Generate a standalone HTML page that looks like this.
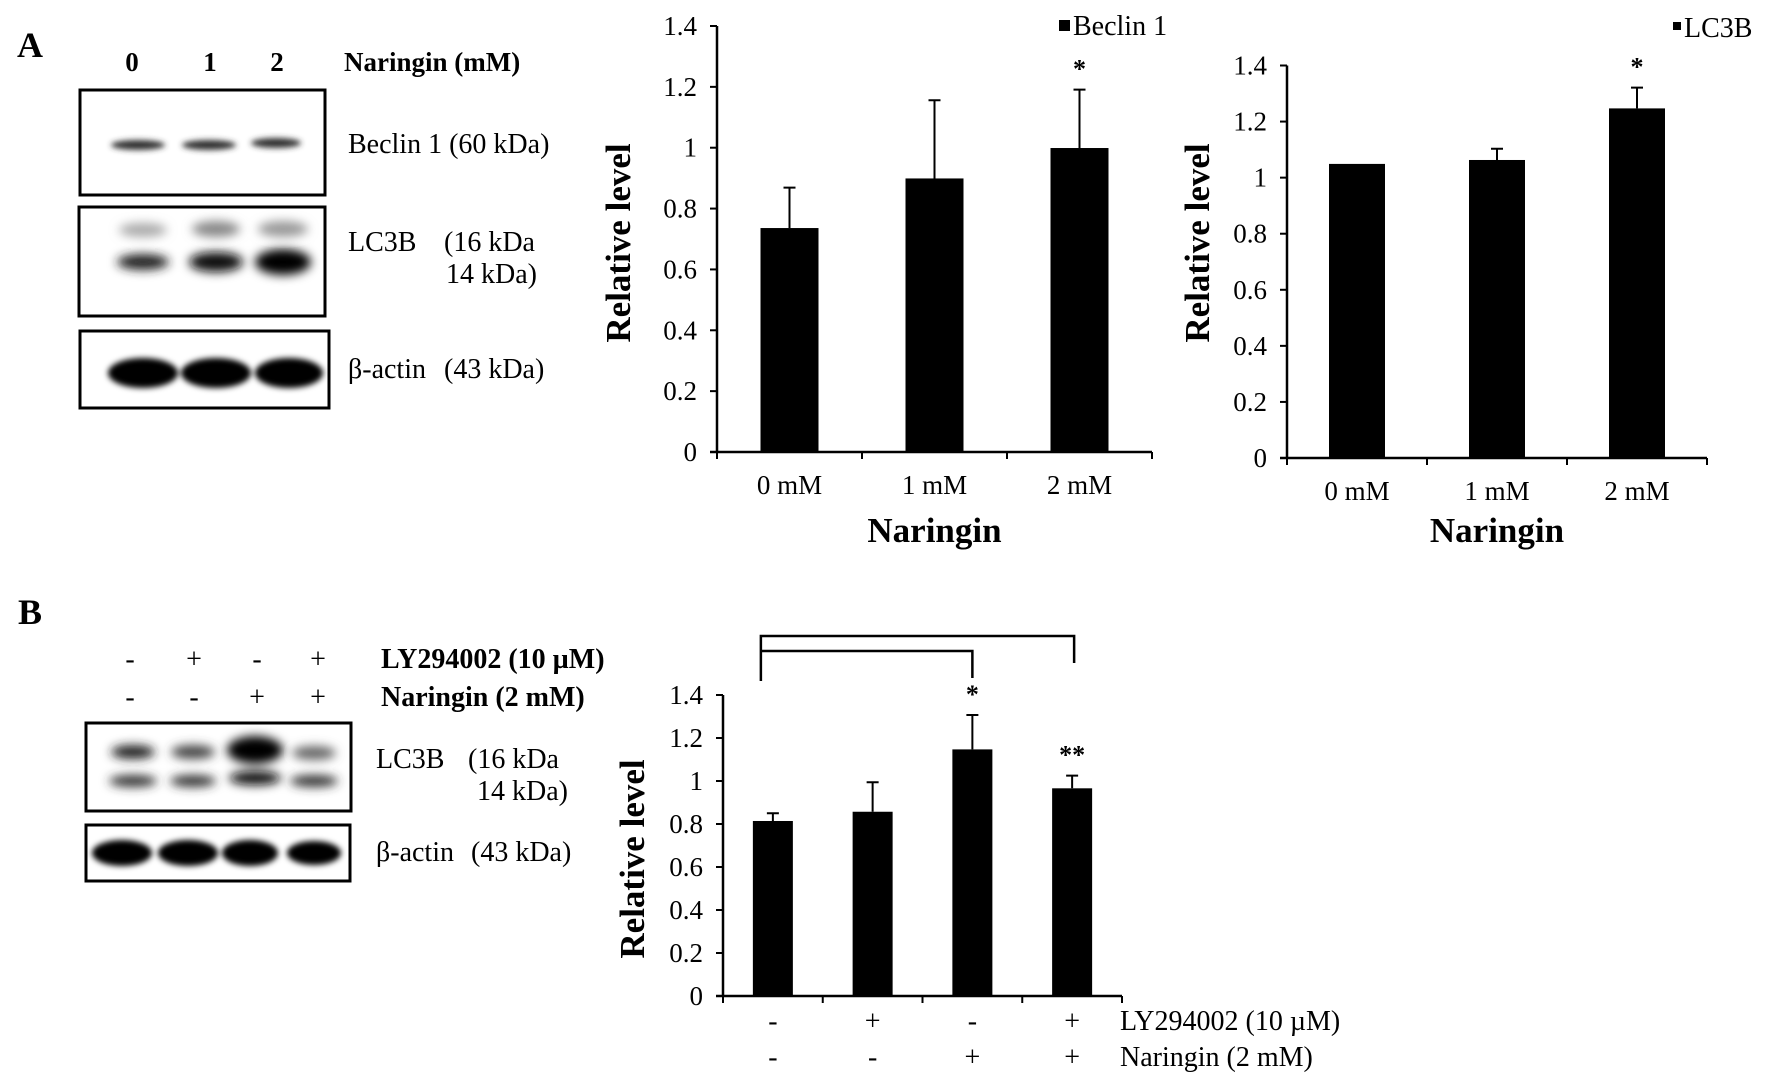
<!DOCTYPE html>
<html><head><meta charset="utf-8"><style>
html,body{margin:0;padding:0;background:#fff;}
svg{display:block;font-family:"Liberation Serif",serif;}
</style></head><body>
<svg id="fig" width="1772" height="1088" viewBox="0 0 1772 1088" xmlns="http://www.w3.org/2000/svg">
<defs>
<filter id="blur3" x="-50%" y="-100%" width="200%" height="300%"><feGaussianBlur stdDeviation="3"/></filter>
<filter id="blur5" x="-50%" y="-100%" width="200%" height="300%"><feGaussianBlur stdDeviation="5"/></filter>
</defs>
<text x="17" y="57" font-size="36" font-weight="bold">A</text>
<g font-size="27" font-weight="bold">
<text x="132" y="71" text-anchor="middle">0</text>
<text x="210" y="71" text-anchor="middle">1</text>
<text x="277" y="71" text-anchor="middle">2</text>
<text x="344" y="71">Naringin (mM)</text>
</g>
<g>
<rect x="80" y="90" width="245" height="105" fill="#fff" stroke="#000" stroke-width="3"/>
<g filter="url(#blur3)" fill="#333"><ellipse cx="138" cy="145" rx="27" ry="5"/><ellipse cx="209" cy="145" rx="27" ry="5"/><ellipse cx="276" cy="143" rx="25" ry="5"/></g>
</g>
<g>
<rect x="79" y="207" width="246" height="109" fill="#fff" stroke="#000" stroke-width="3"/>
<g filter="url(#blur5)"><ellipse cx="143" cy="230" rx="24" ry="7" fill="#aaa"/><ellipse cx="216" cy="229" rx="24" ry="8" fill="#888"/><ellipse cx="283" cy="229" rx="25" ry="8" fill="#999"/>
<ellipse cx="143" cy="262" rx="26" ry="8" fill="#222"/><ellipse cx="216" cy="262" rx="27" ry="10" fill="#111"/><ellipse cx="283" cy="262" rx="28" ry="13" fill="#000"/></g>
</g>
<g>
<rect x="80" y="331" width="249" height="77" fill="#fff" stroke="#000" stroke-width="3"/>
<g filter="url(#blur3)" fill="#000"><ellipse cx="143" cy="373" rx="35" ry="15"/><ellipse cx="216" cy="373" rx="35" ry="15"/><ellipse cx="289" cy="373" rx="34" ry="15"/></g>
</g>
<g font-size="28">
<text x="348" y="153">Beclin 1  (60 kDa)</text>
<text x="348" y="251">LC3B</text><text x="444" y="251">(16 kDa</text>
<text x="446" y="283">14 kDa)</text>
<text x="348" y="378">β-actin</text><text x="444" y="378">(43 kDa)</text>
</g>
<text x="18" y="624" font-size="36" font-weight="bold">B</text>
<g font-size="28">
<text x="130" y="668" text-anchor="middle">-</text><text x="194" y="668" text-anchor="middle">+</text><text x="257" y="668" text-anchor="middle">-</text><text x="318" y="668" text-anchor="middle">+</text>
<text x="130" y="706" text-anchor="middle">-</text><text x="194" y="706" text-anchor="middle">-</text><text x="257" y="706" text-anchor="middle">+</text><text x="318" y="706" text-anchor="middle">+</text>
</g>
<g font-size="28" font-weight="bold">
<text x="381" y="668">LY294002 (10 µM)</text>
<text x="381" y="706">Naringin (2 mM)</text>
</g>
<g>
<rect x="86" y="723" width="265" height="88" fill="#fff" stroke="#000" stroke-width="3"/>
<g filter="url(#blur5)"><ellipse cx="133" cy="752" rx="22" ry="7" fill="#222"/><ellipse cx="193" cy="752" rx="22" ry="7" fill="#444"/><ellipse cx="255" cy="750" rx="28" ry="14" fill="#000"/><ellipse cx="314" cy="753" rx="22" ry="7" fill="#666"/>
<ellipse cx="133" cy="781" rx="24" ry="6" fill="#333"/><ellipse cx="193" cy="781" rx="23" ry="6" fill="#333"/><ellipse cx="255" cy="778" rx="26" ry="7" fill="#111"/><ellipse cx="314" cy="781" rx="24" ry="6" fill="#333"/></g>
</g>
<g>
<rect x="86" y="825" width="264" height="56" fill="#fff" stroke="#000" stroke-width="3"/>
<g filter="url(#blur3)" fill="#000"><ellipse cx="122" cy="853" rx="30" ry="13"/><ellipse cx="188" cy="853" rx="30" ry="13"/><ellipse cx="250" cy="853" rx="28" ry="13"/><ellipse cx="314" cy="853" rx="27" ry="12"/></g>
</g>
<g font-size="28">
<text x="376" y="768">LC3B</text><text x="468" y="768">(16 kDa</text>
<text x="477" y="800">14 kDa)</text>
<text x="376" y="861">β-actin</text><text x="471" y="861">(43 kDa)</text>
</g>
<g id="charts"></g>
</svg>
<script>
// Chart 1: Beclin 1
const c1Categories = ["0 mM", "1 mM", "2 mM"];
const c1Values = [0.736, 0.899, 0.999];
const c1Errors = [0.133, 0.257, 0.192];
const c1Stars = ["", "", "*"];
// Chart 2: LC3B
const c2Categories = ["0 mM", "1 mM", "2 mM"];
const c2Values = [1.049, 1.063, 1.247];
const c2Errors = [0, 0.04, 0.074];
const c2Stars = ["", "", "*"];
// Chart 3: LC3B with LY294002
const c3RowLY = ["-", "+", "-", "+"];
const c3RowNar = ["-", "-", "+", "+"];
const c3Values = [0.814, 0.857, 1.147, 0.966];
const c3Errors = [0.036, 0.137, 0.16, 0.059];
const c3Stars = ["", "", "*", "**"];
const yTicks = [0, 0.2, 0.4, 0.6, 0.8, 1, 1.2, 1.4];
const yTickLabels = ["0", "0.2", "0.4", "0.6", "0.8", "1", "1.2", "1.4"];

const NS = "http://www.w3.org/2000/svg";
const root = document.getElementById("charts");
function mk(tag, attrs, parent, text) {
  const e = document.createElementNS(NS, tag);
  for (const k in attrs) e.setAttribute(k, attrs[k]);
  if (text !== undefined) e.textContent = text;
  (parent || root).appendChild(e);
  return e;
}
function drawChart(cfg) {
  const g = mk("g", {});
  
  
  const n = cfg.values.length;
  const yScale = v => cfg.y0 - (v / 1.4) * (cfg.y0 - cfg.yTop);
  const step = (cfg.xEnd - cfg.x0) / n;
  const xCenter = i => cfg.x0 + step * (i + 0.5);
  const ya = mk("line", {x1: cfg.x0, y1: yScale(1.4), x2: cfg.x0, y2: cfg.y0, stroke: "#000", "stroke-width": 2.5}, g);
  
  
  yTicks.forEach((t, i) => {
    const y = yScale(t);
    mk("line", {x1: cfg.x0 - 7, y1: y, x2: cfg.x0, y2: y, stroke: "#000", "stroke-width": 2}, g);
    const tl = mk("text", {x: cfg.x0 - 20, y: y + 9, "font-size": cfg.tickFont, "text-anchor": "end"}, g, yTickLabels[i]);
    
    
  });
  const xa = mk("line", {x1: cfg.x0 - 7, y1: cfg.y0, x2: cfg.xEnd, y2: cfg.y0, stroke: "#000", "stroke-width": 2.5}, g);
  
  
  for (let i = 0; i <= n; i++) {
    const x = cfg.x0 + step * i;
    mk("line", {x1: x, y1: cfg.y0, x2: x, y2: cfg.y0 + 7, stroke: "#000", "stroke-width": 2}, g);
  }
  cfg.values.forEach((v, i) => {
    const cx = xCenter(i);
    const yt = yScale(v);
    const b = mk("rect", {x: cx - cfg.barW / 2, y: yt, width: cfg.barW, height: cfg.y0 - yt, fill: "#000"}, g);
    
    
    const e = cfg.errors[i];
    let topY = yt;
    if (e > 0) {
      topY = yScale(v + e);
      const el = mk("path", {d: `M${cx},${yt}V${topY}M${cx - 6},${topY}H${cx + 6}`, stroke: "#000", "stroke-width": 2, fill: "none"}, g);
      
      
    }
    if (cfg.stars[i]) {
      const s = mk("text", {x: cx, y: topY - cfg.starGap, "font-size": 26, "font-weight": "bold", "text-anchor": "middle"}, g, cfg.stars[i]);
      
      
    }
  });
  if (cfg.categories) {
    cfg.categories.forEach((c, i) => {
      const t = mk("text", {x: xCenter(i), y: cfg.y0 + 42, "font-size": cfg.tickFont, "text-anchor": "middle"}, g, c);
      
      
    });
  }
  if (cfg.rows) {
    cfg.rows.forEach((row, r) => {
      row.forEach((c, i) => {
        const t = mk("text", {x: xCenter(i), y: cfg.rowY[r], "font-size": 28, "text-anchor": "middle"}, g, c);
        
        
      });
      const rl = mk("text", {x: cfg.rowLabelX, y: cfg.rowY[r], "font-size": 28}, g, cfg.rowLabels[r]);
      
      
    });
  }
  const yt = mk("text", {x: 0, y: 0, "font-size": 35, "font-weight": "bold", "text-anchor": "middle",
    transform: `translate(${cfg.yTitleX},${cfg.yTitleY}) rotate(-90)`}, g, "Relative level");
  
  
  if (cfg.xTitle) {
    const xt = mk("text", {x: (cfg.x0 + cfg.xEnd) / 2, y: cfg.xTitleY, "font-size": 35, "font-weight": "bold", "text-anchor": "middle"}, g, cfg.xTitle);
    
    
  }
  if (cfg.legend) {
    const lg = mk("g", {}, g);
    
    
    mk("rect", {x: cfg.legend.x, y: cfg.legend.y - 15, width: cfg.legend.sq, height: cfg.legend.sq, fill: "#000"}, lg);
    mk("text", {x: cfg.legend.x + cfg.legend.sq + 3, y: cfg.legend.y, "font-size": 28}, lg, cfg.legend.text);
  }
  return {g, xCenter, yScale};
}
drawChart({name: "beclin1-chart", x0: 717, xEnd: 1152, y0: 452, yTop: 26, barW: 58,
  values: c1Values, errors: c1Errors, stars: c1Stars, categories: c1Categories, starGap: 12, tickFont: 27,
  yTitleX: 630, yTitleY: 243, xTitle: "Naringin", xTitleY: 542,
  legend: {x: 1059, y: 35, sq: 11, text: "Beclin 1"}});
drawChart({name: "lc3b-chart", x0: 1287, xEnd: 1707, y0: 458, yTop: 65.5, barW: 56,
  values: c2Values, errors: c2Errors, stars: c2Stars, categories: c2Categories, starGap: 12, tickFont: 27,
  yTitleX: 1209, yTitleY: 243, xTitle: "Naringin", xTitleY: 542,
  legend: {x: 1673, y: 37, sq: 8, text: "LC3B"}});
const c3 = drawChart({name: "ly294002-chart", x0: 723, xEnd: 1122, y0: 996, yTop: 695, barW: 40,
  values: c3Values, errors: c3Errors, stars: c3Stars, starGap: 12, tickFont: 27,
  rows: [c3RowLY, c3RowNar], rowY: [1030, 1066], rowLabelX: 1120, rowLabels: ["LY294002 (10 µM)", "Naringin (2 mM)"],
  yTitleX: 644, yTitleY: 859});
const br = mk("path", {d: `M${c3.xCenter(0) - 12},681V636H${c3.xCenter(3) + 2}V663M${c3.xCenter(0) - 12},651H${c3.xCenter(2)}V678`,
  stroke: "#000", "stroke-width": 2.5, fill: "none"});


</script>
</body></html>
